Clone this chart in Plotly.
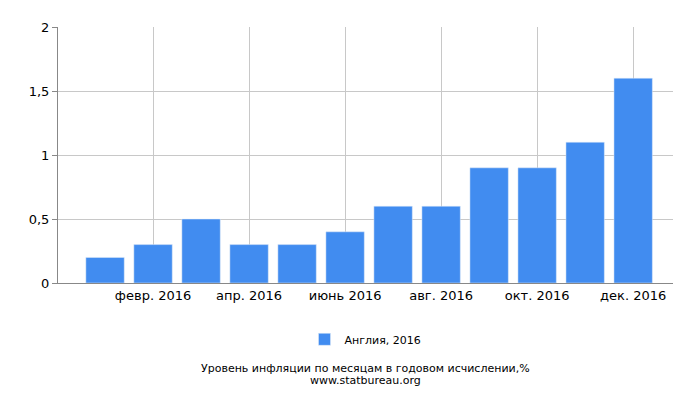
import plotly.graph_objects as go

months = ["янв. 2016","февр. 2016","март 2016","апр. 2016","май 2016","июнь 2016",
          "июль 2016","авг. 2016","сент. 2016","окт. 2016","нояб. 2016","дек. 2016"]
values = [0.2,0.3,0.5,0.3,0.3,0.4,0.6,0.6,0.9,0.9,1.1,1.6]
series_name = "Англия, 2016"
y_ticks = [0,0.5,1,1.5,2]
y_labels = ["0","0,5","1","1,5","2"]

x = list(range(len(months)))
fig = go.Figure(go.Bar(x=x, y=values, name=series_name, marker_color="#418cf0", width=0.8))
fig.update_layout(
    width=700, height=400, margin=dict(l=50, r=35, t=15, b=125),
    plot_bgcolor="white", paper_bgcolor="white",
    font=dict(family="DejaVu Sans", size=13, color="#000"),
    showlegend=True,
    legend=dict(orientation="h", x=0.5, xanchor="center", y=-0.22, yanchor="middle", font=dict(size=11)),
    xaxis=dict(range=[-0.98, 11.83], tickvals=x[1::2], ticktext=months[1::2],
               showgrid=True, gridcolor="#c8c8c8", showline=True, linecolor="#888",
               ticks="", zeroline=False),
    yaxis=dict(range=[0, 2], tickvals=y_ticks, ticktext=y_labels, showgrid=True,
               gridcolor="#c8c8c8", showline=True, linecolor="#888", ticks="outside",
               ticklen=5, tickcolor="#888", zeroline=False),
)
fig.add_annotation(text="Уровень инфляции по месяцам в годовом исчислении,%", xref="paper", yref="paper",
                   x=0.5, y=-0.335, yanchor="middle", showarrow=False, font=dict(size=11))
fig.add_annotation(text="www.statbureau.org", xref="paper", yref="paper",
                   x=0.5, y=-0.38, yanchor="middle", showarrow=False, font=dict(size=11))
fig.write_html("out.html")
